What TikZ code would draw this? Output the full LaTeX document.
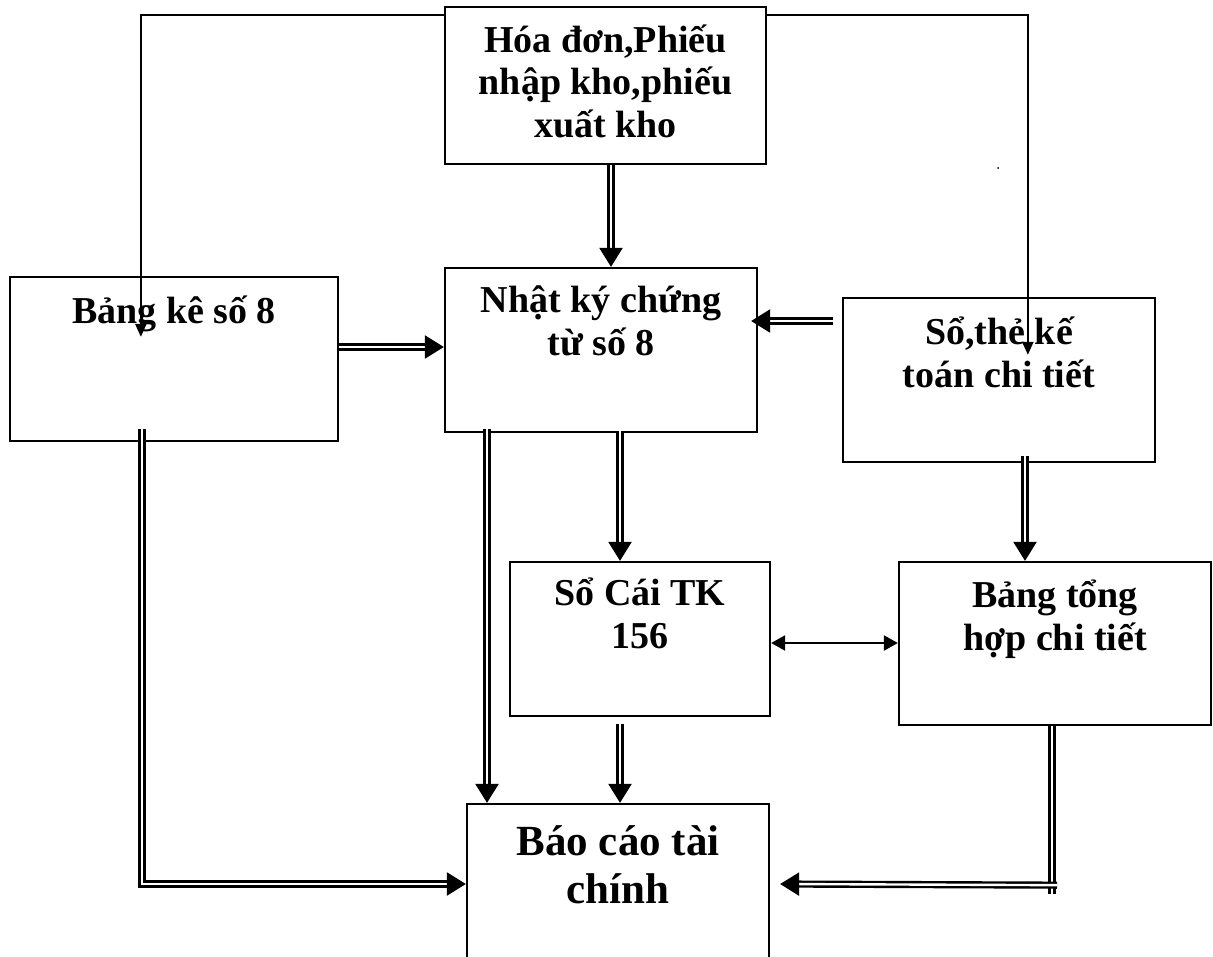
\documentclass[tikz,border=0pt]{standalone}
\usepackage{fontspec}
\setmainfont{Liberation Serif}
\usetikzlibrary{arrows.meta,calc}
\begin{document}
\begin{tikzpicture}[x=1pt,y=-1pt,
  box/.style={draw, line width=2.3pt, inner sep=0pt},
  lbl/.style={font=\bfseries\fontsize{38}{42.5}\selectfont, align=center, inner sep=0pt, anchor=base},
  biglbl/.style={font=\bfseries\fontsize{43}{48}\selectfont, align=center, inner sep=0pt, anchor=base},
  link/.style={line width=2.2pt},
  tip/.style={-{Triangle[length=13pt,width=11pt]}},
  dbl/.style={double, double distance=2.4pt, line width=2.4pt},
  dtip/.style={-{Triangle[length=19pt,width=23pt]}}]
\useasboundingbox (0,0) rectangle (1213,956);
\clip (0,0) rectangle (1213,956);

% boxes
\node[box, minimum width=321pt, minimum height=157pt] (hd) at (605.5,85.5) {};
\node[box, minimum width=328pt, minimum height=164pt] (bk) at (174,359) {};
\node[box, minimum width=312pt, minimum height=164pt] (nk) at (601,350) {};
\node[box, minimum width=312pt, minimum height=164pt] (st) at (999,380) {};
\node[box, minimum width=260pt, minimum height=154pt] (sc) at (640,639) {};
\node[box, minimum width=312pt, minimum height=163pt] (bt) at (1055,643.5) {};
\node[box, minimum width=302pt, minimum height=180pt] (bc) at (618,894) {};

% labels (anchored on the baseline of their last line)
\node[lbl] (hdt) at (605.5,137) {Hóa đơn,Phiếu\\nhập kho,phiếu\\xuất kho};
\node[lbl] (bkt) at (174,323) {Bảng kê số 8};
\node[lbl] (nkt) at (601,355) {Nhật ký chứng\\từ số 8};
\node[lbl] (stt) at (999,387) {Sổ,thẻ kế\\toán chi tiết};
\node[lbl] (sct) at (640,648) {Sổ Cái TK\\156};
\node[lbl] (btt) at (1055,650) {Bảng tổng\\hợp chi tiết};
\node[biglbl] (bct) at (618,903) {Báo cáo tài\\chính};

% single-line feeds from the source documents
\draw[link,tip] ($(hd.north west)+(0,9)$) -| ($(bk.north west)+(132,61)$);
\draw[link,tip] ($(hd.north east)+(0,9)$) -| ($(st.north west)+(186,58)$);

% double-line flows
\draw[dbl,dtip] ($(hd.south)+(5.5,0)$) -- ($(nk.north)+(10,0)$);
\draw[dbl,dtip] (bk.east |- 0,347) -- (nk.west |- 0,347);
\draw[dbl,dtip] ($(st.west |- 0,321)+(-9,0)$) -- ($(nk.east |- 0,321)+(-7,0)$);
\draw[dbl,dtip] ($(bk.south -| 142,0)+(0,-13)$) |- (bc.west |- 0,884);
\draw[dbl,dtip] ($(nk.south -| 487,0)+(0,-4)$) -- (bc.north -| 487,0);
\draw[dbl,dtip] ($(nk.south -| 620,0)+(0,-2)$) -- (sc.north -| 620,0);
\draw[dbl,dtip] ($(sc.south -| 620,0)+(0,7)$) -- (bc.north -| 620,0);
\draw[dbl,dtip] ($(st.south -| 1025,0)+(0,-7)$) -- (bt.north -| 1025,0);
\draw[dbl] (bt.south -| 1052,0) -- ($(bt.south -| 1052,0)+(0,168)$);
\draw[dbl,dtip] ($(bt.south -| 1052,0)+(5,159)$) -- ($(bc.east |- 0,884)+(10,0)$);

% two-way link between the ledgers
\draw[link,{Triangle[length=14pt,width=15pt]}-{Triangle[length=14pt,width=15pt]}] (sc.east |- 0,643) -- (bt.west |- 0,643);

% stray mark
\fill (998,168) circle (1pt);
\end{tikzpicture}
\end{document}
